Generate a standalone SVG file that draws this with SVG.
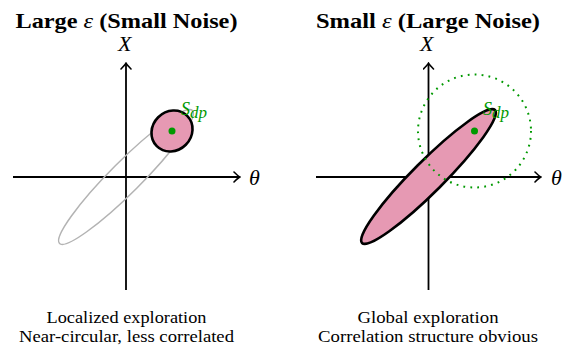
<svg xmlns="http://www.w3.org/2000/svg" width="567" height="347" viewBox="0 0 567 347">
<style>
.title{font-family:"Liberation Serif",serif;font-weight:bold;font-size:21px;text-anchor:middle;fill:#000}
.ax{stroke:#000;stroke-width:1.8;fill:none}
.axlab{font-family:"Liberation Serif",serif;font-style:italic;font-size:22px;fill:#000}
.cap{font-family:"Liberation Serif",serif;font-size:17.5px;text-anchor:middle;fill:#000}
.pink{fill:#e699b3;stroke:#000;stroke-width:2.6}
.gray{fill:none;stroke:#b3b3b3;stroke-width:1.5}
.dot{fill:#009900}
.sdp{font-family:"Liberation Serif",serif;font-style:italic;font-size:18px;fill:#009900}
.ring{fill:none;stroke:#009900;stroke-width:2;stroke-dasharray:1.8 5.2}
</style>
<defs>
<marker id="arr" viewBox="-6 -6 8 12" markerWidth="8" markerHeight="12" refX="0" refY="0" orient="auto" markerUnits="userSpaceOnUse">
<path d="M-5,-5 Q-1,-1 0.8,0 Q-1,1 -5,5" fill="none" stroke="#000" stroke-width="1.6" stroke-linecap="round"/>
</marker>
</defs>
<g id="left-panel">
<text class="title" x="126.5" y="28" textLength="222" lengthAdjust="spacingAndGlyphs">Large <tspan font-weight="normal" font-style="italic">ε</tspan> (Small Noise)</text>
<g id="left-axes" class="connectors">
<line class="ax" x1="13" y1="177" x2="239" y2="177" marker-end="url(#arr)"/>
<line class="ax" x1="126" y1="290" x2="126" y2="64" marker-end="url(#arr)"/>
</g>
<text class="axlab" x="118" y="51">X</text>
<text class="axlab" x="249" y="185">θ</text>
<g id="left-gray-ellipse"><ellipse class="gray" cx="126" cy="177" rx="94" ry="15.5" transform="rotate(-45 126 177)"/></g>
<g id="left-pink-ellipse"><ellipse class="pink" cx="172" cy="131" rx="21.5" ry="19.5" transform="rotate(-45 172 131)"/></g>
<g id="left-sdp"><circle class="dot" cx="172" cy="131" r="3.5"/>
<text class="sdp" x="181" y="115">S<tspan dy="3" font-size="17">dp</tspan></text></g>
<text class="cap" x="126.5" y="323" textLength="160" lengthAdjust="spacingAndGlyphs">Localized exploration</text>
<text class="cap" x="126.5" y="341.5" textLength="215" lengthAdjust="spacingAndGlyphs">Near-circular, less correlated</text>
</g>
<g id="right-panel">
<text class="title" x="428" y="28" textLength="224" lengthAdjust="spacingAndGlyphs">Small <tspan font-weight="normal" font-style="italic">ε</tspan> (Large Noise)</text>
<g id="right-axes" class="connectors">
<line class="ax" x1="316" y1="177" x2="540" y2="177" marker-end="url(#arr)"/>
<line class="ax" x1="428.5" y1="290" x2="428.5" y2="64" marker-end="url(#arr)"/>
</g>
<text class="axlab" x="420" y="51">X</text>
<text class="axlab" x="551" y="185">θ</text>
<g id="right-pink-ellipse"><ellipse class="pink" cx="428.5" cy="176.5" rx="94" ry="15.5" transform="rotate(-45 428.5 176.5)"/></g>
<g id="right-ring"><circle class="ring" cx="474.5" cy="131" r="56.5"/></g>
<g id="right-sdp"><circle class="dot" cx="474.5" cy="131" r="3.5"/>
<text class="sdp" x="483" y="115">S<tspan dy="3" font-size="17">dp</tspan></text></g>
<text class="cap" x="428" y="323" textLength="141" lengthAdjust="spacingAndGlyphs">Global exploration</text>
<text class="cap" x="428" y="341.5" textLength="220" lengthAdjust="spacingAndGlyphs">Correlation structure obvious</text>
</g>
</svg>
